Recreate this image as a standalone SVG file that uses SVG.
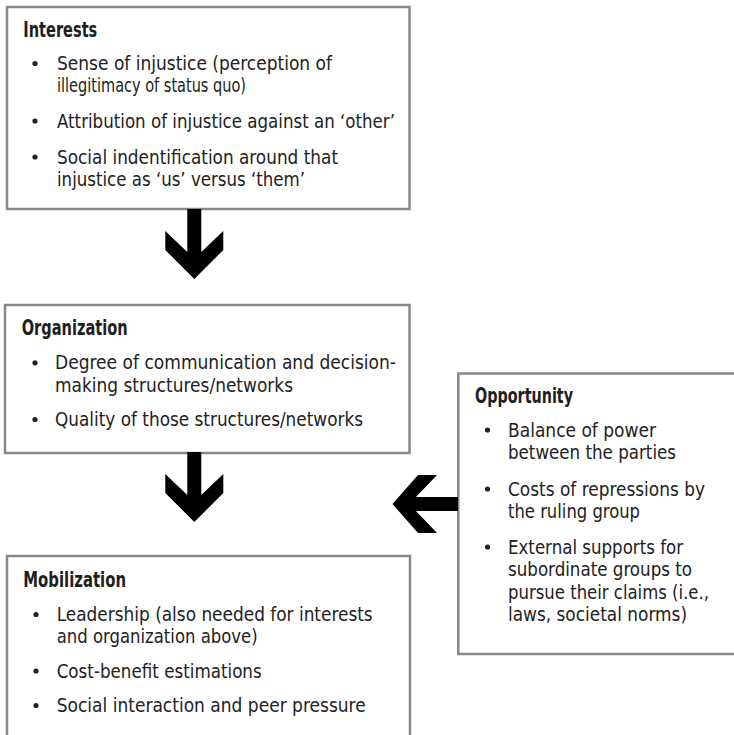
<svg xmlns="http://www.w3.org/2000/svg" width="734" height="735" viewBox="0 0 734 735">
<style>
.box{fill:#fff;stroke:#888;stroke-width:2.5}
.h{font-family:"DejaVu Sans Condensed","Liberation Sans Narrow","Liberation Sans",sans-serif;font-weight:bold;font-size:20.5px;fill:#1e1e1e}
.t{font-family:"DejaVu Sans Condensed","Liberation Sans Narrow","Liberation Sans",sans-serif;font-size:20px;fill:#222}
.b{fill:#222}
.arr{fill:#000}
</style>
<rect width="734" height="735" fill="#fff"/>
<g id="interests">
<rect class="box" x="7" y="7" width="402.5" height="202"/>
<text class="h" x="23.3" y="36.7" textLength="74" lengthAdjust="spacingAndGlyphs">Interests</text>
<circle class="b" cx="35" cy="63.5" r="2.6"/>
<text class="t" x="57" y="70" textLength="275" lengthAdjust="spacingAndGlyphs">Sense of injustice (perception of</text>
<text class="t" x="57" y="92" textLength="189" lengthAdjust="spacingAndGlyphs">illegitimacy of status quo)</text>
<circle class="b" cx="35" cy="121" r="2.6"/>
<text class="t" x="57" y="127.5" textLength="338" lengthAdjust="spacingAndGlyphs">Attribution of injustice against an ‘other’</text>
<circle class="b" cx="35" cy="157" r="2.6"/>
<text class="t" x="57" y="163.5" textLength="281" lengthAdjust="spacingAndGlyphs">Social indentification around that</text>
<text class="t" x="57" y="186" textLength="248" lengthAdjust="spacingAndGlyphs">injustice as ‘us’ versus ‘them’</text>
</g>
<g id="organization">
<rect class="box" x="5" y="305" width="404.5" height="148"/>
<text class="h" x="21.7" y="335" textLength="106" lengthAdjust="spacingAndGlyphs">Organization</text>
<circle class="b" cx="35" cy="362.8" r="2.6"/>
<text class="t" x="55" y="369.3" textLength="341" lengthAdjust="spacingAndGlyphs">Degree of communication and decision-</text>
<text class="t" x="55" y="391.8" textLength="238" lengthAdjust="spacingAndGlyphs">making structures/networks</text>
<circle class="b" cx="35" cy="419.5" r="2.6"/>
<text class="t" x="55" y="426" textLength="308" lengthAdjust="spacingAndGlyphs">Quality of those structures/networks</text>
</g>
<g id="mobilization">
<rect class="box" x="7" y="556" width="403" height="220"/>
<text class="h" x="23.3" y="586.7" textLength="102.7" lengthAdjust="spacingAndGlyphs">Mobilization</text>
<circle class="b" cx="36" cy="614.5" r="2.6"/>
<text class="t" x="56.7" y="621" textLength="316" lengthAdjust="spacingAndGlyphs">Leadership (also needed for interests</text>
<text class="t" x="56.7" y="643" textLength="201" lengthAdjust="spacingAndGlyphs">and organization above)</text>
<circle class="b" cx="36" cy="671" r="2.6"/>
<text class="t" x="56.7" y="677.5" textLength="205" lengthAdjust="spacingAndGlyphs">Cost-benefit estimations</text>
<circle class="b" cx="36" cy="705.5" r="2.6"/>
<text class="t" x="56.7" y="712" textLength="309" lengthAdjust="spacingAndGlyphs">Social interaction and peer pressure</text>
</g>
<g id="opportunity">
<rect class="box" x="458.3" y="373.5" width="300" height="280.5"/>
<text class="h" x="475" y="403.3" textLength="98" lengthAdjust="spacingAndGlyphs">Opportunity</text>
<circle class="b" cx="487.5" cy="430" r="2.6"/>
<text class="t" x="508" y="436.5" textLength="148" lengthAdjust="spacingAndGlyphs">Balance of power</text>
<text class="t" x="508" y="459" textLength="168" lengthAdjust="spacingAndGlyphs">between the parties</text>
<circle class="b" cx="487.5" cy="489" r="2.6"/>
<text class="t" x="508" y="495.5" textLength="197" lengthAdjust="spacingAndGlyphs">Costs of repressions by</text>
<text class="t" x="508" y="518" textLength="132" lengthAdjust="spacingAndGlyphs">the ruling group</text>
<circle class="b" cx="487.5" cy="547" r="2.6"/>
<text class="t" x="508" y="553.5" textLength="175" lengthAdjust="spacingAndGlyphs">External supports for</text>
<text class="t" x="508" y="576" textLength="184" lengthAdjust="spacingAndGlyphs">subordinate groups to</text>
<text class="t" x="508" y="598.5" textLength="201" lengthAdjust="spacingAndGlyphs">pursue their claims (i.e.,</text>
<text class="t" x="508" y="621" textLength="179" lengthAdjust="spacingAndGlyphs">laws, societal norms)</text>
</g>
<g id="connectors">
<polygon class="arr" points="187.3,209 201.3,209 201.3,252 223.3,231 223.3,250 194.3,279 165.3,250 165.3,231 187.3,252"/>
<polygon class="arr" points="187.3,452 201.3,452 201.3,495 223.3,474 223.3,493 194.3,522 165.3,493 165.3,474 187.3,495"/>
<polygon class="arr" points="458,497 458,511 416,511 437,533 418,533 392.5,504 418,475 437,475 416,497"/>
</g>
</svg>
